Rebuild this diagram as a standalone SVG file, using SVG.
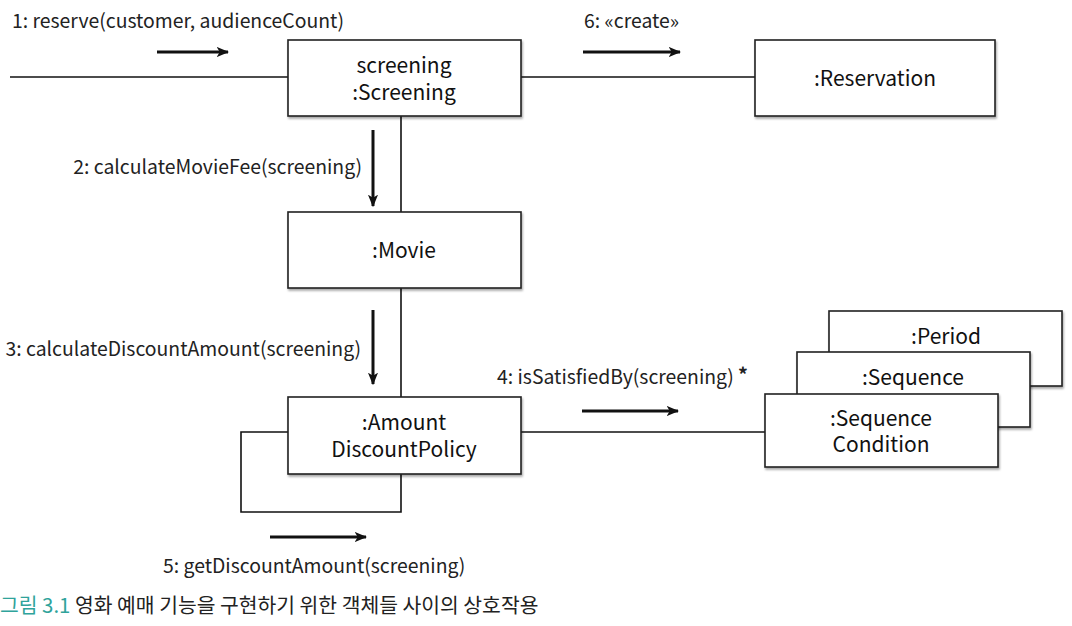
<svg xmlns="http://www.w3.org/2000/svg" width="1072" height="626" viewBox="0 0 1072 626">
<defs>
<filter id="sh" x="-5%" y="-5%" width="110%" height="115%">
<feDropShadow dx="1" dy="2" stdDeviation="1" flood-color="#000" flood-opacity="0.35"/>
</filter>
<marker id="ah" viewBox="0 0 10 10" refX="9" refY="5" markerWidth="4.2" markerHeight="4.2" orient="auto" markerUnits="strokeWidth">
<path d="M0,1 L10,5 L0,9 L2.5,5 Z" fill="#111"/>
</marker>
<style>
.box{fill:#fff;stroke:#222;stroke-width:1.6;filter:url(#sh)}
.ln{fill:none;stroke:#111;stroke-width:1.6}
.ar{fill:none;stroke:#111;stroke-width:3;marker-end:url(#ah)}
.nt{font-family:"Noto Sans CJK KR","Noto Sans",sans-serif;font-size:21px;fill:#111;text-anchor:middle}
.lb{font-family:"Noto Sans CJK KR","Noto Sans",sans-serif;font-size:19.4px;fill:#222}
.cap{font-family:"Noto Sans CJK KR",sans-serif;font-size:20.4px;fill:#222}
</style>
</defs>
<rect width="1072" height="626" fill="#fff"/>
<g id="connectors">
<line class="ln" x1="10" y1="77" x2="288" y2="77"/>
<line class="ln" x1="521" y1="77" x2="755" y2="77"/>
<line class="ln" x1="401" y1="116" x2="401" y2="212"/>
<line class="ln" x1="401" y1="288" x2="401" y2="397"/>
<line class="ln" x1="521" y1="432" x2="765" y2="432"/>
<polyline class="ln" points="288,432 241,432 241,512 401,512 401,474"/>
<line class="ar" x1="157" y1="52" x2="228" y2="52"/>
<line class="ar" x1="583" y1="52" x2="680" y2="52"/>
<line class="ar" x1="373" y1="130" x2="373" y2="206"/>
<line class="ar" x1="373" y1="310" x2="373" y2="384"/>
<line class="ar" x1="582" y1="411" x2="678" y2="411"/>
<line class="ar" x1="270" y1="537" x2="366" y2="537"/>
<text class="lb" x="12" y="28">1: reserve(customer, audienceCount)</text>
<text class="lb" x="584" y="28">6: «create»</text>
<text class="lb" x="362" y="174" text-anchor="end">2: calculateMovieFee(screening)</text>
<text class="lb" x="361" y="356" text-anchor="end">3: calculateDiscountAmount(screening)</text>
<text class="lb" x="497" y="384">4: isSatisfiedBy(screening)</text>
<text class="lb" x="738" y="382" font-size="30" font-weight="bold">*</text>
<text class="lb" x="163" y="573">5: getDiscountAmount(screening)</text>
</g>
<g id="screening">
<rect class="box" x="288" y="40" width="233" height="76"/>
<text class="nt" x="404" y="73">screening</text>
<text class="nt" x="404" y="100">:Screening</text>
</g>
<g id="reservation">
<rect class="box" x="755" y="40" width="240" height="76"/>
<text class="nt" x="875" y="86">:Reservation</text>
</g>
<g id="movie">
<rect class="box" x="288" y="212" width="233" height="76"/>
<text class="nt" x="404" y="258">:Movie</text>
</g>
<g id="amountDiscountPolicy">
<rect class="box" x="288" y="397" width="233" height="77"/>
<text class="nt" x="404" y="430">:Amount</text>
<text class="nt" x="404" y="457">DiscountPolicy</text>
</g>
<g id="period">
<rect class="box" x="829" y="311" width="233" height="75"/>
<text class="nt" x="946" y="344">:Period</text>
</g>
<g id="sequence">
<rect class="box" x="797" y="352" width="233" height="75"/>
<text class="nt" x="913" y="385">:Sequence</text>
</g>
<g id="sequenceCondition">
<rect class="box" x="765" y="394" width="233" height="73"/>
<text class="nt" x="881" y="426">:Sequence</text>
<text class="nt" x="881" y="452">Condition</text>
</g>
<g id="caption">
<text class="cap" x="0" y="613"><tspan fill="#2fa39b">그림 3.1</tspan> 영화 예매 기능을 구현하기 위한 객체들 사이의 상호작용</text>
</g>
</svg>
